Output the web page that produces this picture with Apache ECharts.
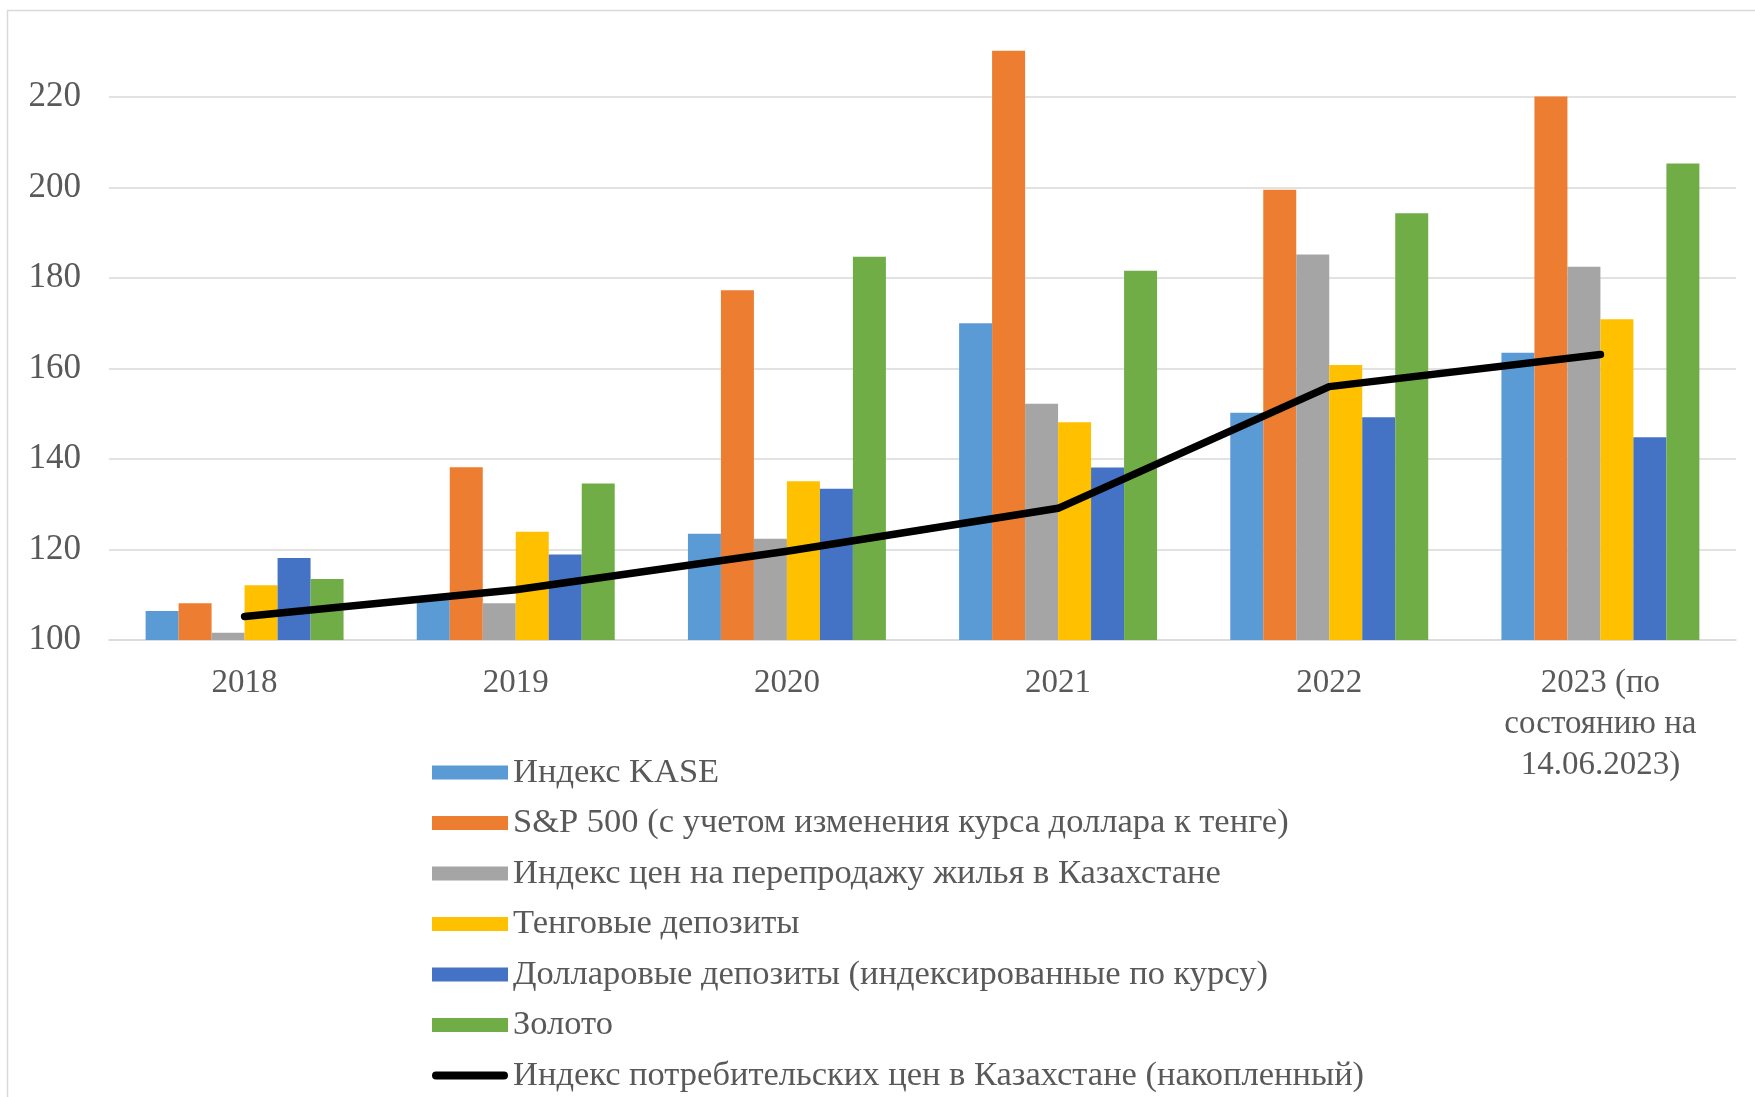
<!DOCTYPE html>
<html>
<head>
<meta charset="utf-8">
<script src="https://cdn.jsdelivr.net/npm/echarts@6/dist/echarts.min.js"></script>
<style>
html,body{margin:0;padding:0;background:#fff;}
#c{width:1755px;height:1097px;}
</style>
</head>
<body>
<div id="c"></div>
<script>
const categories = ['2018', '2019', '2020', '2021', '2022', '2023 (по\nсостоянию на\n14.06.2023)'];
const seriesNames = [
  'Индекс KASE',
  'S&P 500 (с учетом изменения курса доллара к тенге)',
  'Индекс цен на перепродажу жилья в Казахстане',
  'Тенговые депозиты',
  'Долларовые депозиты (индексированные по курсу)',
  'Золото',
  'Индекс потребительских цен в Казахстане (накопленный)'
];
const kase    = [106.4, 109.0, 123.5, 170.0, 150.2, 163.5];
const sp500   = [108.1, 138.2, 177.3, 230.2, 199.5, 220.1];
const housing = [101.6, 108.1, 122.4, 152.2, 185.2, 182.5];
const tenge   = [112.1, 123.9, 135.1, 148.1, 160.8, 170.9];
const dollar  = [118.1, 118.9, 133.4, 138.1, 149.2, 144.8];
const gold    = [113.5, 134.6, 184.7, 181.6, 194.3, 205.3];
const cpi     = [105.2, 111.1, 119.6, 129.1, 156.0, 163.1];
const yTicks  = [100, 120, 140, 160, 180, 200, 220];

const colors = ['#5B9BD5', '#ED7D31', '#A5A5A5', '#FFC000', '#4472C4', '#70AD47'];
const barData = [kase, sp500, housing, tenge, dollar, gold];
const font = 'Liberation Serif';

const chart = echarts.init(document.getElementById('c'), null, {renderer: 'canvas'});

const series = barData.map((d, i) => ({
  name: seriesNames[i],
  type: 'bar',
  data: d,
  barGap: '0%',
  barCategoryGap: '27%',
  itemStyle: {color: colors[i]},
  z: 2
}));
series.push({
  name: seriesNames[6],
  type: 'line',
  data: cpi,
  symbol: 'none',
  showSymbol: false,
  smooth: false,
  lineStyle: {color: '#000', width: 7.5, cap: 'round', join: 'round'},
  itemStyle: {color: '#000'},
  z: 5
});

const lineIcon = 'path://M0,0L0.01,0M0,14L0.01,14M4,3L72,3A4,4,0,0,1,72,11L4,11A4,4,0,0,1,4,3Z';

chart.setOption({
  animation: false,
  backgroundColor: '#fff',
  textStyle: {fontFamily: font},
  graphic: [{
    type: 'rect',
    shape: {x: 7.5, y: 10.5, width: 1800, height: 1200},
    style: {fill: 'none', stroke: '#d9d9d9', lineWidth: 1.5},
    silent: true,
    z: -10
  }],
  grid: {left: 109, right: 19, top: 6.5, bottom: 457, containLabel: false},
  xAxis: {
    type: 'category',
    data: categories,
    axisLine: {show: true, lineStyle: {color: '#d9d9d9', width: 1.5}},
    axisTick: {show: false},
    axisLabel: {
      color: '#595959', fontFamily: font, fontSize: 33, margin: 23,
      lineHeight: 41, interval: 0, verticalAlign: 'top'
    }
  },
  yAxis: {
    type: 'value',
    min: yTicks[0],
    max: 240,
    interval: 20,
    axisLine: {show: false},
    axisTick: {show: false},
    splitLine: {show: true, showMaxLine: false, lineStyle: {color: '#d9d9d9', width: 1.5}},
    axisLabel: {color: '#595959', fontFamily: font, fontSize: 35, margin: 28, showMaxLabel: false}
  },
  legend: {
    orient: 'vertical',
    left: 432,
    top: 755,
    height: 420,
    padding: 0,
    itemWidth: 76,
    itemHeight: 14,
    itemGap: 15.5,
    textStyle: {color: '#595959', fontFamily: font, fontSize: 34.5, padding: [0, 0, 0, 0]},
    data: seriesNames.map((n, i) => i < 6
      ? {name: n, icon: 'rect'}
      : {name: n, icon: lineIcon, itemStyle: {color: '#000', borderWidth: 0}})
  },
  series: series
});
</script>
</body>
</html>
